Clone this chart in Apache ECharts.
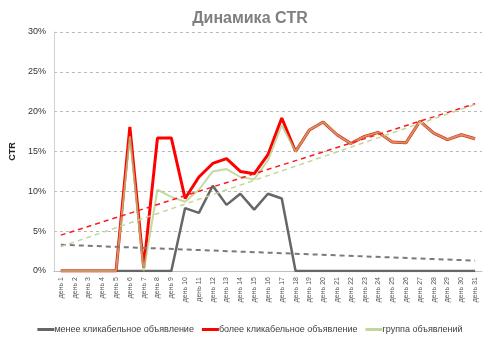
<!DOCTYPE html>
<html>
<head>
<meta charset="utf-8">
<script src="https://cdn.jsdelivr.net/npm/echarts@6/dist/echarts.min.js"></script>
<style>html,body{margin:0;padding:0;background:#fff}#c{width:500px;height:356px}</style>
</head>
<body>
<div id="c"></div>
<script>
var days = [];
for (var i = 1; i <= 31; i++) days.push('день ' + i);
var yTicks = [0, 5, 10, 15, 20, 25, 30];
var lessClick = [0,0,0,0,0,0,0,0,0,7.9,7.3,10.7,8.3,9.7,7.7,9.7,9.1,0,0,0,0,0,0,0,0,0,0,0,0,0,0];
var moreClick = [0,0,0,0,0,18.1,0.4,16.7,16.7,9.1,11.8,13.5,14.1,12.5,12.2,14.6,19.2,15.0,17.7,18.7,17.1,16.0,16.9,17.4,16.2,16.1,18.8,17.3,16.5,17.1,16.6];
var groupAds = [0,0,0,0,0,16.9,0,10.2,9.3,8.7,10.2,12.5,12.8,11.8,11.5,13.9,18.3,15.0,17.7,18.7,17.1,16.0,16.9,17.4,16.2,16.1,18.8,17.3,16.5,17.1,16.6];
var lessTrend = [3.3, 1.3];
var moreTrend = [4.5, 21.0];
var groupTrend = [3.05, 20.9];
var names = ['менее кликабельное объявление', 'более кликабельное объявление', 'группа объявлений'];

function trend(t, color, w) {
  return {
    silent: true, symbol: 'none', label: {show: false},
    lineStyle: {type: [5, 4], width: w, color: color},
    data: [[{coord: [days[0], t[0]]}, {coord: [days[days.length - 1], t[1]]}]]
  };
}

var chart = echarts.init(document.getElementById('c'));
chart.setOption({
  animation: false,
  title: {text: 'Динамика CTR', left: 'center', top: 6,
    textStyle: {fontFamily: 'Liberation Sans', fontSize: 16, fontWeight: 'bold', color: '#7f7f7f'}},
  grid: {left: 43, right: 18, top: 32, bottom: 85},
  legend: {
    bottom: 17, left: 'center', itemWidth: 17, itemHeight: 3, itemGap: 8, icon: 'rect',
    textStyle: {fontFamily: 'Liberation Sans', fontSize: 9, color: '#404040', padding: [0, 0, 0, -5]},
    data: names
  },
  xAxis: {
    type: 'category', data: days, boundaryGap: true,
    axisLine: {lineStyle: {color: '#bfbfbf'}},
    axisTick: {show: false},
    axisLabel: {rotate: 90, interval: 0, fontFamily: 'Liberation Sans', fontSize: 7, color: '#555555', margin: 6}
  },
  yAxis: {
    type: 'value', min: yTicks[0], max: yTicks[yTicks.length - 1], interval: 5,
    name: 'CTR', nameLocation: 'middle', nameGap: 27, nameRotate: 90,
    nameTextStyle: {fontFamily: 'Liberation Sans', fontSize: 9, fontWeight: 'bold', color: '#262626'},
    axisLine: {show: true, lineStyle: {color: '#d0d0d0'}},
    axisTick: {show: false},
    axisLabel: {formatter: '{value}%', fontFamily: 'Liberation Sans', fontSize: 9, color: '#333333', margin: 8},
    splitLine: {lineStyle: {type: [3, 3], color: '#b8b8b8'}}
  },
  series: [
    {name: names[0], type: 'line', data: lessClick, symbol: 'none', color: '#666666',
      lineStyle: {width: 2.5, color: '#666666'}, markLine: trend(lessTrend, '#7a7a7a', 2), z: 2},
    {name: names[1], type: 'line', data: moreClick, symbol: 'none', color: '#ff0000',
      lineStyle: {width: 3, color: '#ff0000'}, markLine: trend(moreTrend, '#ff1a1a', 1.5), z: 3},
    {name: names[2], type: 'line', data: groupAds, symbol: 'none', color: '#c3d69b',
      lineStyle: {width: 2, color: 'rgba(175,205,130,0.75)'}, markLine: trend(groupTrend, '#c3d69b', 1.5), z: 4}
  ]
});
</script>
</body>
</html>
